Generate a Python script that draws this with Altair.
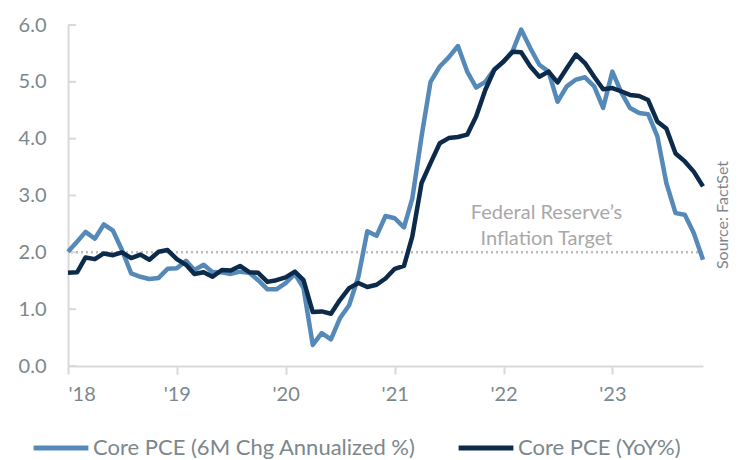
import altair as alt
import pandas as pd

months = pd.date_range("2018-01-01", "2023-11-01", freq="MS").strftime("%Y-%m-%d").tolist()

core_6m = [2.01, 2.19, 2.36, 2.24, 2.49, 2.38, 2.04, 1.63, 1.57, 1.53, 1.55, 1.71,
           1.72, 1.85, 1.69, 1.78, 1.65, 1.65, 1.62, 1.66, 1.64, 1.51, 1.35, 1.35,
           1.46, 1.62, 1.37, 0.37, 0.58, 0.47, 0.84, 1.07, 1.57, 2.37, 2.29, 2.64,
           2.60, 2.44, 2.95, 4.04, 5.00, 5.27, 5.43, 5.63, 5.18, 4.90, 5.00, 5.22,
           5.35, 5.55, 5.92, 5.59, 5.30, 5.18, 4.65, 4.92, 5.04, 5.08, 4.92, 4.54,
           5.18, 4.80, 4.54, 4.45, 4.43, 4.04, 3.22, 2.69, 2.66, 2.34, 1.87]

core_yoy = [1.64, 1.65, 1.91, 1.88, 1.98, 1.95, 2.00, 1.90, 1.96, 1.87, 2.01, 2.04,
            1.88, 1.78, 1.62, 1.65, 1.57, 1.69, 1.68, 1.76, 1.65, 1.64, 1.48, 1.51,
            1.56, 1.66, 1.51, 0.95, 0.96, 0.92, 1.16, 1.37, 1.46, 1.39, 1.43, 1.54,
            1.71, 1.76, 2.28, 3.22, 3.57, 3.92, 4.01, 4.03, 4.07, 4.39, 4.86, 5.21,
            5.36, 5.53, 5.52, 5.27, 5.09, 5.18, 4.99, 5.24, 5.48, 5.33, 5.09, 4.87,
            4.89, 4.83, 4.77, 4.75, 4.68, 4.30, 4.18, 3.74, 3.60, 3.42, 3.16]

series_names = ["Core PCE (6M Chg Annualized %)", "Core PCE (YoY%)"]
series_colors = ["#5589b8", "#0c2b4b"]
y_ticks = [0, 1, 2, 3, 4, 5, 6]
target = 2.0
target_lines = ["Federal Reserve’s", "Inflation Target"]
target_y = [2.69, 2.24]
target_date = "2022-05-25"
source_text = "Source: FactSet"

FONT = "Lato"
GRAY = "#7c878d"

df = pd.DataFrame({
    "date": months * 2,
    "value": core_6m + core_yoy,
    "series": [series_names[0]] * len(months) + [series_names[1]] * len(months),
})

x_scale = alt.Scale(type="utc", domain=["2018-01-01", "2023-11-01"])
y_scale = alt.Scale(domain=[0, 6], nice=False)
color_scale = alt.Scale(domain=series_names, range=series_colors)

x_enc = alt.X("date:T", scale=x_scale, axis=alt.Axis(
    title=None, grid=False, domainColor="#d9d9d9", domainWidth=2,
    tickColor="#d9d9d9", tickWidth=2, tickSize=8,
    tickCount={"interval": "year", "step": 1},
    labelExpr="'\\'' + utcFormat(datum.value, '%y')",
    labelFontSize=20, labelColor=GRAY, labelFont=FONT, labelPadding=10,
))
y_enc = alt.Y("value:Q", scale=y_scale, axis=alt.Axis(
    title=None, grid=False, values=y_ticks, format=".1f",
    domainColor="#d9d9d9", domainWidth=2, ticks=False,
    labelFontSize=20, labelColor=GRAY, labelFont=FONT, labelPadding=22,
))

target_rule = alt.Chart(pd.DataFrame({"y": [target]})).mark_rule(
    color="#bdbdbd", strokeWidth=2.5, strokeDash=[2, 3]
).encode(y=alt.Y("y:Q", scale=y_scale))

tick_df = pd.DataFrame({"y": y_ticks})
inner_ticks = alt.Chart(tick_df).mark_rule(color="#d9d9d9", strokeWidth=2).encode(
    y=alt.Y("y:Q", scale=y_scale), x=alt.value(0), x2=alt.value(8)
)

light = alt.Chart(df[df.series == series_names[0]]).mark_line(strokeWidth=4.5, strokeJoin="round").encode(
    x=x_enc, y=y_enc,
    color=alt.Color("series:N", scale=color_scale, legend=alt.Legend(
        title=None, orient="none", legendX=-37, legendY=393, direction="horizontal",
        symbolType="stroke", symbolSize=3000, symbolStrokeWidth=5,
        labelFontSize=22, labelColor=GRAY, labelFont=FONT, labelLimit=500,
        labelOffset=2, columnPadding=32,
    )),
)
dark = alt.Chart(df[df.series == series_names[1]]).mark_line(strokeWidth=4.5, strokeJoin="round").encode(
    x=x_enc, y=y_enc, color=alt.Color("series:N", scale=color_scale),
)

ann_df = pd.DataFrame({"date": [target_date] * 2, "y": target_y, "t": target_lines})
annot = alt.Chart(ann_df).mark_text(fontSize=20, color="#a8a8a8", font=FONT).encode(
    x=alt.X("date:T", scale=x_scale), y=alt.Y("y:Q", scale=y_scale), text="t:N"
)

src = alt.Chart(pd.DataFrame({"t": [source_text]})).mark_text(
    angle=270, fontSize=16, color=GRAY, font=FONT
).encode(x=alt.value(655), y=alt.value(190), text="t:N")

chart = alt.layer(target_rule, inner_ticks, light, dark, annot, src).properties(
    width=635, height=341,
    autosize=alt.AutoSizeParams(type="none"),
    padding={"left": 60, "top": 17, "right": 28, "bottom": 94},
).configure_view(stroke=None)

chart.save("out.html", embed_options={"renderer": "svg", "actions": False})
